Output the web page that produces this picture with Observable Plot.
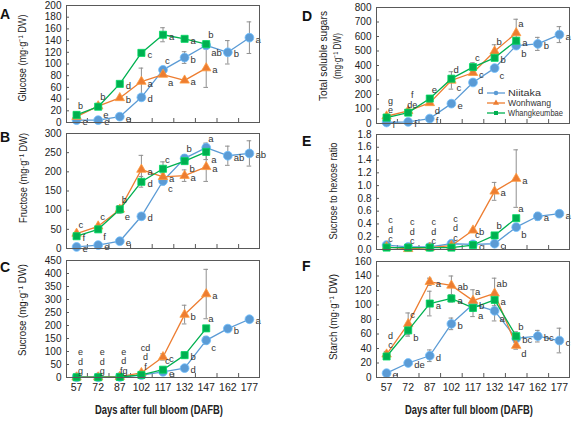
<!DOCTYPE html>
<html>
<head>
<meta charset="utf-8">
<script src="https://cdn.jsdelivr.net/npm/d3@7"></script>
<script src="https://cdn.jsdelivr.net/npm/@observablehq/plot@0.6"></script>
<style>
  body { margin: 0; background: #fff; }
  #chart { position: relative; width: 572px; height: 421px; overflow: hidden;
    font-family: "Liberation Sans", Arial, sans-serif; }
  #chart > svg { position: absolute; }
</style>
</head>
<body>
<div id="chart"></div>
<script>
// Sampling dates (days after full bloom) and cultivars
const days = [57, 72, 87, 102, 117, 132, 147, 162, 177];
const cultivars = ["Niitaka", "Wonhwang", "Whangkeumbae"];

// A. Glucose (mg·g-1 DW)
const glucoseNiitaka = [4, 4, 10, 43, 90, 111, 132, 120, 145];
const glucoseNiitakaSD = [1, 1, 2, 3, 4, 10, 6, 20, 27];
const glucoseNiitakaLetters = ["e", "e", "e", "d", "c", "b", "ab", "b", "a"];
const glucoseWonhwang = [10, 28, 42, 70, 82, 72, 93];
const glucoseWonhwangSD = [2, 2, 3, 23, 4, 3, 33];
const glucoseWonhwangLetters = ["", "b", "b", "a", "a", "a", "a"];
const glucoseWhangkeumbae = [13, 27, 66, 119, 150, 143, 134];
const glucoseWhangkeumbaeSD = [5, 2, 3, 3, 12, 4, 5];
const glucoseWhangkeumbaeLetters = ["", "e", "d", "c", "a", "a", "b"];
const glucoseStacks = ["b"];

// B. Fructose (mg·g-1 DW)
const fructoseNiitaka = [4, 9, 19, 84, 176, 235, 263, 242, 248];
const fructoseNiitakaSD = [2, 2, 3, 8, 10, 10, 12, 25, 33];
const fructoseNiitakaLetters = ["e", "e", "e", "d", "c", "b", "a", "ab", "ab"];
const fructoseWonhwang = [39, 58, 102, 206, 187, 190, 213];
const fructoseWonhwangSD = [4, 4, 10, 37, 10, 15, 38];
const fructoseWonhwangLetters = ["c", "c", "b", "a", "a", "a", "a"];
const fructoseWhangkeumbae = [32, 50, 102, 174, 208, 228, 252];
const fructoseWhangkeumbaeSD = [3, 4, 6, 14, 18, 8, 20];
const fructoseWhangkeumbaeLetters = ["f", "f", "e", "d", "c", "b", "a"];
const fructoseStacks = [];

// C. Sucrose (mg·g-1 DW)
const sucroseNiitaka = [1, 1, 2, 9, 22, 36, 143, 188, 224];
const sucroseNiitakaSD = [1, 1, 1, 2, 3, 5, 15, 6, 6];
const sucroseNiitakaLetters = ["", "", "", "", "e", "d", "c", "b", "a"];
const sucroseWonhwang = [1, 1, 3, 18, 79, 242, 321];
const sucroseWonhwangSD = [1, 1, 1, 3, 12, 36, 95];
const sucroseWonhwangLetters = ["", "", "", "", "c", "b", "a"];
const sucroseWhangkeumbae = [1, 1, 2, 10, 30, 86, 189];
const sucroseWhangkeumbaeSD = [1, 1, 1, 2, 4, 12, 10];
const sucroseWhangkeumbaeLetters = ["", "", "", "", "c", "b", "a"];
const sucroseStacks = ["e\nd\ng", "e\nd\ng", "e\nd\nfg", "cd\nd\nf"];

// D. Total soluble sugars (mg·g-1 DW)
const sugarsNiitaka = [7, 11, 34, 137, 283, 382, 537, 549, 613];
const sugarsNiitakaSD = [3, 3, 5, 8, 12, 12, 18, 45, 55];
const sugarsNiitakaLetters = ["f", "f", "f", "e", "d", "c", "b", "b", "a"];
const sugarsWonhwang = [50, 87, 142, 297, 350, 498, 624];
const sugarsWonhwangSD = [5, 8, 10, 60, 15, 45, 95];
const sugarsWonhwangLetters = ["", "", "d", "c", "c", "b", "a"];
const sugarsWhangkeumbae = [41, 75, 172, 309, 389, 453, 571];
const sugarsWhangkeumbaeSD = [4, 6, 10, 20, 30, 15, 20];
const sugarsWhangkeumbaeLetters = ["", "", "e", "d", "c", "b", "a"];
const sugarsStacks = ["g\ne", "f\nde"];

// E. Sucrose to hexose ratio
const ratioNiitaka = [0.07, 0.04, 0.04, 0.09, 0.08, 0.09, 0.35, 0.52, 0.56];
const ratioNiitakaSD = [0.01, 0.01, 0.01, 0.01, 0.01, 0.01, 0.03, 0.06, 0.05];
const ratioNiitakaLetters = ["", "", "", "", "c", "c", "b", "a", "a"];
const ratioWonhwang = [0.04, 0.01, 0.03, 0.06, 0.30, 0.91, 1.11];
const ratioWonhwangSD = [0.01, 0.01, 0.01, 0.01, 0.03, 0.14, 0.45];
const ratioWonhwangLetters = ["", "", "", "", "b", "a", "a"];
const ratioWhangkeumbae = [0.03, 0.03, 0.03, 0.03, 0.07, 0.22, 0.49];
const ratioWhangkeumbaeSD = [0.01, 0.01, 0.01, 0.01, 0.01, 0.02, 0.02];
const ratioWhangkeumbaeLetters = ["", "", "", "", "c", "b", "a"];
const ratioStacks = ["c\nd\nc", "c\nd\nc", "c\nd\nc", "c\nd\nc"];

// F. Starch (mg·g-1 DW)
const starchNiitaka = [6, 20, 30, 74, 101, 92, 54, 57, 51];
const starchNiitakaSD = [1, 2, 8, 8, 6, 14, 6, 8, 17];
const starchNiitakaLetters = ["e", "de", "d", "b", "b", "a", "bc", "bc", "c"];
const starchWonhwang = [32, 74, 132, 127, 106, 116, 44];
const starchWonhwangSD = [4, 15, 5, 13, 15, 21, 5];
const starchWonhwangLetters = ["", "c", "a", "ab", "a", "ab", "d"];
const starchWhangkeumbae = [29, 65, 102, 109, 96, 107, 57];
const starchWhangkeumbaeSD = [3, 8, 17, 5, 12, 8, 6];
const starchWhangkeumbaeLetters = ["", "b", "a", "a", "a", "a", "b"];
const starchStacks = ["d\nc"];

// Styling
const colors = ["#5b9bd5", "#ed7d31", "#00b050"];
const symbols = ["circle", "triangle", "square"];
const radii = [4.4, 3.5, 4];
const frameColor = "#595959";
const errColor = "#8f8f8f";
const FONT = `"Liberation Sans", Arial, sans-serif`;

const LEFT = {x: 0, width: 290, marginLeft: 66, marginRight: 31};
const RIGHT = {x: 290, width: 282, marginLeft: 86, marginRight: 3};

const panels = [
  {...LEFT, top: 0, height: 130, marginTop: 5, marginBottom: 8, yMax: 200, yStep: 20,
   values: [glucoseNiitaka, glucoseWonhwang, glucoseWhangkeumbae],
   sd: [glucoseNiitakaSD, glucoseWonhwangSD, glucoseWhangkeumbaeSD],
   letters: [glucoseNiitakaLetters, glucoseWonhwangLetters, glucoseWhangkeumbaeLetters],
   stacks: glucoseStacks},
  {...LEFT, top: 130, height: 125, marginTop: 3, marginBottom: 7, yMax: 300, yStep: 50,
   values: [fructoseNiitaka, fructoseWonhwang, fructoseWhangkeumbae],
   sd: [fructoseNiitakaSD, fructoseWonhwangSD, fructoseWhangkeumbaeSD],
   letters: [fructoseNiitakaLetters, fructoseWonhwangLetters, fructoseWhangkeumbaeLetters],
   stacks: fructoseStacks},
  {...LEFT, top: 255, height: 166, marginTop: 5, marginBottom: 44, yMax: 450, yStep: 50, showX: true,
   values: [sucroseNiitaka, sucroseWonhwang, sucroseWhangkeumbae],
   sd: [sucroseNiitakaSD, sucroseWonhwangSD, sucroseWhangkeumbaeSD],
   letters: [sucroseNiitakaLetters, sucroseWonhwangLetters, sucroseWhangkeumbaeLetters],
   stacks: sucroseStacks},
  {...RIGHT, top: 0, height: 130, marginTop: 7, marginBottom: 7, yMax: 800, yStep: 100,
   values: [sugarsNiitaka, sugarsWonhwang, sugarsWhangkeumbae],
   sd: [sugarsNiitakaSD, sugarsWonhwangSD, sugarsWhangkeumbaeSD],
   letters: [sugarsNiitakaLetters, sugarsWonhwangLetters, sugarsWhangkeumbaeLetters],
   stacks: sugarsStacks},
  {...RIGHT, top: 130, height: 125, marginTop: 4, marginBottom: 6, yMax: 1.8, yStep: 0.2, format: d3.format(".1f"),
   values: [ratioNiitaka, ratioWonhwang, ratioWhangkeumbae],
   sd: [ratioNiitakaSD, ratioWonhwangSD, ratioWhangkeumbaeSD],
   letters: [ratioNiitakaLetters, ratioWonhwangLetters, ratioWhangkeumbaeLetters],
   stacks: ratioStacks},
  {...RIGHT, top: 255, height: 166, marginTop: 6, marginBottom: 44, yMax: 160, yStep: 20, showX: true,
   values: [starchNiitaka, starchWonhwang, starchWhangkeumbae],
   sd: [starchNiitakaSD, starchWonhwangSD, starchWhangkeumbaeSD],
   letters: [starchNiitakaLetters, starchWonhwangLetters, starchWhangkeumbaeLetters],
   stacks: starchStacks}
];

// category boundaries between sampling dates (inner tick marks)
const bounds = days.slice(1).map((d, i) => (d + days[i]) / 2);

// letter offsets: beside the marker, or above / below it when another cultivar sits close by
const OFFSETS = {right: [6, 2], above: [2, -9], below: [5, 8]};

function panel(p) {
  const fw = p.width - p.marginLeft - p.marginRight;
  const fh = p.height - p.marginTop - p.marginBottom;
  const yTicks = d3.range(0, p.yMax + p.yStep / 2, p.yStep).map(v => +v.toFixed(2));
  const series = cultivars.map((c, i) => p.values[i].map((v, j) => ({
    cultivar: c, k: i, day: days[j], v, sd: p.sd[i][j], letter: p.letters[i][j],
    py: fh * (1 - v / p.yMax)
  })));
  const all = series.flat();
  const visible = d => d.sd / p.yMax * fh > 2.5;
  const bars = all.filter(visible);
  const stackRows = p.stacks.map((t, j) => ({
    day: days[j], text: t,
    top: d3.max(all.filter(d => d.day === days[j]), d => d.v + (visible(d) ? d.sd : 0))
  }));

  // choose a side for each letter from the neighbouring markers
  all.forEach(d => {
    const others = all.filter(o => o.day === d.day && o !== d);
    const higher = others.some(o => (o.py < d.py || (o.py === d.py && o.k < d.k)) && d.py - o.py < 12);
    const lower = others.some(o => (o.py > d.py || (o.py === d.py && o.k > d.k)) && o.py - d.py < 12);
    let side = "right";
    if (higher && !lower) side = d.py + 10 < fh ? "below" : "right";
    else if (lower && !higher) side = "above";
    d.side = side;
  });

  const marks = [
    Plot.tickX(bounds, {x: d => d, insetTop: fh - 4, stroke: frameColor}),
    Plot.tickY(yTicks, {y: d => d, insetRight: fw - 3, stroke: frameColor}),
    Plot.axisY(yTicks, {tickSize: 0, tickPadding: 5, tickFormat: p.format, label: null, fontSize: 10, fill: "#222"}),
    Plot.ruleX(bars, {x: "day", y1: d => Math.max(0, d.v - d.sd), y2: d => d.v + d.sd, stroke: errColor}),
    Plot.ruleY(bars, {y: d => d.v + d.sd, x1: d => d.day - 1.6, x2: d => d.day + 1.6, stroke: errColor}),
    Plot.ruleY(bars.filter(d => d.v - d.sd > 0), {y: d => d.v - d.sd, x1: d => d.day - 1.6, x2: d => d.day + 1.6, stroke: errColor})
  ];
  series.forEach((rows, i) => {
    marks.push(
      Plot.line(rows, {x: "day", y: "v", stroke: colors[i], strokeWidth: 1.3}),
      Plot.dot(rows, {x: "day", y: "v", symbol: symbols[i], r: radii[i], fill: colors[i],
        stroke: d3.color(colors[i]).brighter(0.6).formatHex(), strokeWidth: 0.8})
    );
  });
  Object.entries(OFFSETS).forEach(([side, [dx, dy]]) => {
    marks.push(Plot.text(all.filter(d => d.letter && d.side === side), {
      x: "day", y: "v", text: "letter", dx, dy, textAnchor: "start", fontSize: 9.5, fill: "#333"
    }));
  });
  marks.push(Plot.text(stackRows, {x: "day", y: "top", text: "text", lineAnchor: "bottom",
    dx: 4, dy: -3, fontSize: 9, lineHeight: 1.05, fill: "#333"}));
  if (p.showX) marks.push(Plot.axisX(days, {tickSize: 0, tickPadding: 6, label: null, fontSize: 10.5, fill: "#222"}));
  marks.push(Plot.frame({stroke: frameColor}));

  const svg = Plot.plot({
    width: p.width, height: p.height,
    marginLeft: p.marginLeft, marginRight: p.marginRight,
    marginTop: p.marginTop, marginBottom: p.marginBottom,
    x: {domain: [50, 184], axis: null},
    y: {domain: [0, p.yMax], axis: null},
    style: {fontFamily: FONT, fontSize: "10px", background: "transparent", overflow: "visible"},
    marks
  });
  svg.style.left = p.x + "px";
  svg.style.top = p.top + "px";
  return svg;
}

const chart = document.getElementById("chart");
panels.forEach(p => chart.appendChild(panel(p)));

// Panel letters, axis titles and legend
const overlay = d3.select(chart).append("svg")
  .attr("width", 572).attr("height", 421)
  .style("left", "0px").style("top", "0px")
  .style("font-family", FONT).style("pointer-events", "none");

const panelLetters = [["A", 0, 19], ["B", 0, 142], ["C", 0, 272], ["D", 302, 21], ["E", 302, 146], ["F", 302, 271]];
overlay.selectAll("text.pl").data(panelLetters).join("text")
  .attr("x", d => d[1]).attr("y", d => d[2])
  .attr("font-size", 14).attr("font-weight", "bold").attr("fill", "#111")
  .text(d => d[0]);

// [text, x, y, length]
const yTitles = [
  ["Glucose (mg·g⁻¹ DW)", 22, 58, 87],
  ["Fructose (mg·g⁻¹ DW)", 23, 178, 90],
  ["Sucrose (mg·g⁻¹ DW)", 22, 310, 92],
  ["Total soluble sugars", 323, 56, 90],
  ["(mg·g⁻¹ DW)", 337, 56, 46],
  ["Sucrose to hexose ratio", 333, 191, 97],
  ["Starch (mg·g⁻¹ DW)", 333, 317, 86]
];
overlay.selectAll("text.yt").data(yTitles).join("text")
  .attr("transform", d => `translate(${d[1]},${d[2]}) rotate(-90)`)
  .attr("text-anchor", "middle").attr("dominant-baseline", "central")
  .attr("font-size", 10.5).attr("fill", "#1a1a1a")
  .attr("textLength", d => d[3]).attr("lengthAdjust", "spacingAndGlyphs")
  .text(d => d[0]);

const xTitles = [["Days after full bloom (DAFB)", 159, 410], ["Days after full bloom (DAFB)", 469, 410]];
overlay.selectAll("text.xt").data(xTitles).join("text")
  .attr("x", d => d[1]).attr("y", d => d[2])
  .attr("text-anchor", "middle").attr("dominant-baseline", "central")
  .attr("font-size", 12).attr("font-weight", "bold").attr("fill", "#222")
  .attr("textLength", 128).attr("lengthAdjust", "spacingAndGlyphs")
  .text(d => d[0]);

const legend = overlay.append("g").attr("transform", "translate(487,93)");
cultivars.forEach((c, i) => {
  const g = legend.append("g").attr("transform", `translate(0,${i * 10})`);
  g.append("line").attr("x1", 0).attr("x2", 18).attr("stroke", colors[i]).attr("stroke-width", 1.3);
  g.append("path").attr("transform", "translate(9,0)")
    .attr("d", d3.symbol(i === 0 ? d3.symbolCircle : i === 1 ? d3.symbolTriangle : d3.symbolSquare, 16)())
    .attr("fill", colors[i]);
  g.append("text").attr("x", 21).attr("dominant-baseline", "central")
    .attr("font-size", 8.5).attr("fill", "#333")
    .attr("textLength", [33, 43, 55][i]).attr("lengthAdjust", "spacingAndGlyphs")
    .text(c);
});
</script>
</body>
</html>
